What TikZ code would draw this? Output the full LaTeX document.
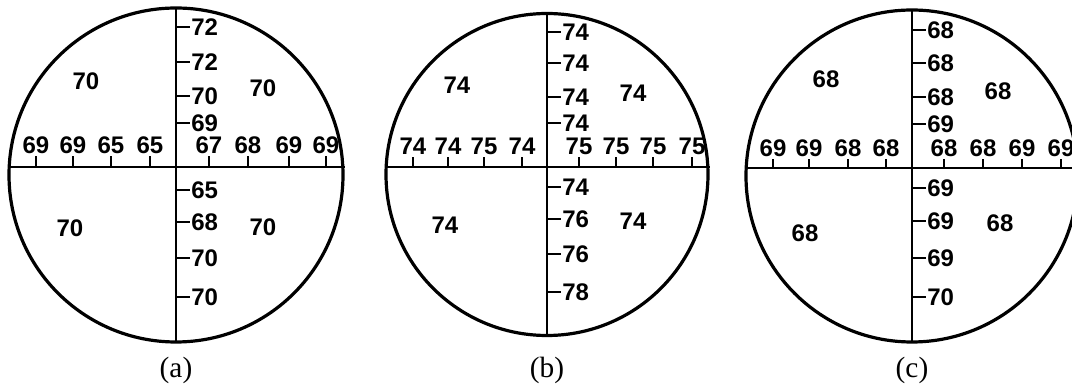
\documentclass[tikz,border=0pt]{standalone}
\usepackage{fontspec}
\setmainfont{Liberation Serif}
\setsansfont{Liberation Sans}
\usetikzlibrary{positioning}

\begin{document}
\begin{tikzpicture}[
    x=0.75pt, y=-0.75pt,
    rim/.style={line width=2.4pt},
    axis/.style={line width=1.4pt},
    tick/.style={line width=1pt},
    val/.style={font=\sffamily\bfseries\fontsize{18}{20}\selectfont, inner sep=0pt},
    caption/.style={font=\fontsize{22}{24}\selectfont, inner sep=0pt},
  ]
  \clip (0,0) rectangle (1072,384);
  % panel (a)
  \draw[rim] (176,175) circle[radius=167];
  \draw[axis] (9,167) -- (345,167);
  \draw[axis] (176,8) -- (176,342);
  \foreach \x/\v [count=\i] in {36/69,73/69,111/65,150/65,209/67,248/68,289/69,326/69} {
    \draw[tick] (\x,167) -- (\x,156);
    \node[val, anchor=south] (a-h\i) at (\x,154) {\v};
  }
  \foreach \y/\v [count=\i] in {27/72,62/72,96/70,123/69,190/65,222/68,258/70,297/70} {
    \draw[tick] (176,\y) -- (190,\y);
    \node[val, anchor=west] (a-v\i) at (191,\y) {\v};
  }
  \node[val] (a-q1) at (86,81) {70};
  \node[val] (a-q2) at (263,88) {70};
  \node[val] (a-q3) at (70,228) {70};
  \node[val] (a-q4) at (263,227) {70};
  \node[caption] (a-cap) at (176,370) {(a)};
  % panel (b)
  \draw[rim] (547,174.5) circle[radius=161];
  \draw[axis] (386,167) -- (710,167);
  \draw[axis] (547,13) -- (547,336);
  \foreach \x/\v [count=\i] in {413/74,448/74,484/75,522/74,579/75,616/75,653/75,692/75} {
    \draw[tick] (\x,167) -- (\x,157);
    \node[val, anchor=south] (b-h\i) at (\x,155) {\v};
  }
  \foreach \y/\v [count=\i] in {32/74,63/74,97/74,123/74,187/74,219/76,254/76,292/78} {
    \draw[tick] (547,\y) -- (561,\y);
    \node[val, anchor=west] (b-v\i) at (562,\y) {\v};
  }
  \node[val] (b-q1) at (457,85) {74};
  \node[val] (b-q2) at (633,93) {74};
  \node[val] (b-q3) at (445,225) {74};
  \node[val] (b-q4) at (633,221) {74};
  \node[caption] (b-cap) at (547,370) {(b)};
  % panel (c)
  \draw[rim] (912,176) circle[radius=166];
  \draw[axis] (745,168) -- (1080,168);
  \draw[axis] (912,10) -- (912,342);
  \foreach \x/\v [count=\i] in {773/69,809/69,848/68,886/68,944/68,983/68,1022/69,1061/69} {
    \draw[tick] (\x,168) -- (\x,159);
    \node[val, anchor=south] (c-h\i) at (\x,157) {\v};
  }
  \foreach \y/\v [count=\i] in {30/68,63/68,97/68,124/69,188/69,221/69,258/69,297/70} {
    \draw[tick] (912,\y) -- (926,\y);
    \node[val, anchor=west] (c-v\i) at (927,\y) {\v};
  }
  \node[val] (c-q1) at (826,79) {68};
  \node[val] (c-q2) at (998,91) {68};
  \node[val] (c-q3) at (805,233) {68};
  \node[val] (c-q4) at (1000,223) {68};
  \node[caption] (c-cap) at (912,370) {(c)};
\end{tikzpicture}
\end{document}
